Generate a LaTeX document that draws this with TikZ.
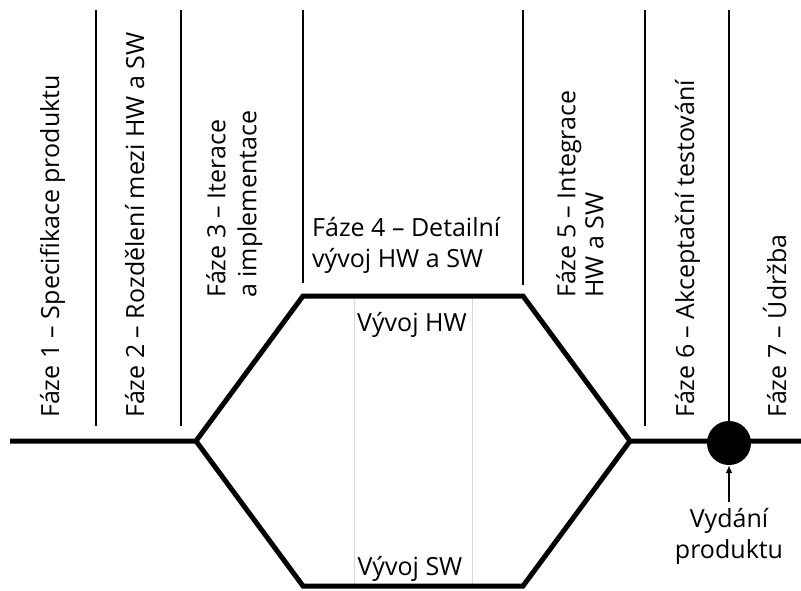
\documentclass[tikz,border=0pt]{standalone}
\usepackage{fontspec}
\setmainfont{Open Sans}
\usetikzlibrary{arrows.meta}

\definecolor{grigioguida}{HTML}{D2DAD6}

\begin{document}
\begin{tikzpicture}[x=1pt, y=-1pt,
    asse/.style={line width=5pt},
    divisore/.style={line width=2.2pt},
    guida/.style={line width=0.9pt, draw=grigioguida},
    testo/.style={inner sep=0pt, font=\fontsize{25}{31}\selectfont},
    fase/.style={testo, rotate=90, anchor=base west},
    fasedue/.style={testo, rotate=90, anchor=north west, align=left}]

        \useasboundingbox (0,0) rectangle (801,590);

        % 1. Vertici dell'esagono sull'asse principale
        \coordinate (inizio) at (10,441);
        \coordinate (sx) at (196,441);
        \coordinate (altosx) at (303,296);
        \coordinate (altodx) at (523,296);
        \coordinate (dx) at (630,441);
        \coordinate (bassosx) at (303,586);
        \coordinate (bassodx) at (523,586);
        \coordinate (fine) at (801,441);

        % 2. Le due guide chiare nella fase centrale
        \draw[guida] (354,296) -- (354,586);
        \draw[guida] (472,296) -- (472,586);

        % 3. Linee verticali che separano le fasi
        \draw[divisore] (96,10) -- (96,426);
        \draw[divisore] (181,10) -- (181,426);
        \draw[divisore] (303,10) -- (303,283);
        \draw[divisore] (523,10) -- (523,285);
        \draw[divisore] (645,10) -- (645,426);

        % 4. Asse orizzontale con l'esagono
        \draw[asse] (inizio) -- (sx) -- (altosx) -- (altodx) -- (dx) -- (fine);
        \draw[asse] (sx) -- (bassosx) -- (bassodx) -- (dx);

        % 5. Punto del rilascio e la sua etichetta
        \node[circle, fill, inner sep=0pt, minimum size=44pt] (rilascio) at (729,443) {};
        \draw[divisore] (729,10) -- (rilascio.north);
        \node[testo, inner ysep=6pt, anchor=north, align=center] (etichetta) at (729,502) {Vydání\\produktu};
        \draw[-{Latex[length=8pt,width=7pt]}, line width=1.8pt] (etichetta.north) -- (rilascio.south);

        % 6. Nomi delle fasi
        \node[fase] (fase1) at (59,418) {Fáze 1 – Specifikace produktu};
        \node[fase] (fase2) at (144,418) {Fáze 2 – Rozdělení mezi HW a SW};
        \node[fasedue] (fase3) at (206,298) {Fáze 3 – Iterace\\a implementace};
        \node[testo, anchor=north west, align=left] (fase4) at (312,217) {Fáze 4 – Detailní\\vývoj HW a SW};
        \node[fasedue, font=\fontsize{25}{28}\selectfont] (fase5) at (556,298) {Fáze 5 – Integrace\\HW a SW};
        \node[fase] (fase6) at (694,418) {Fáze 6 – Akceptační testování};
        \node[fase] (fase7) at (786,418) {Fáze 7 – Údržba};

        % 7. Le due attività parallele
        \node[testo, anchor=base] (hw) at (412,331) {Vývoj HW};
        \node[testo, anchor=base] (sw) at (410,575) {Vývoj SW};

    \end{tikzpicture}
\end{document}
